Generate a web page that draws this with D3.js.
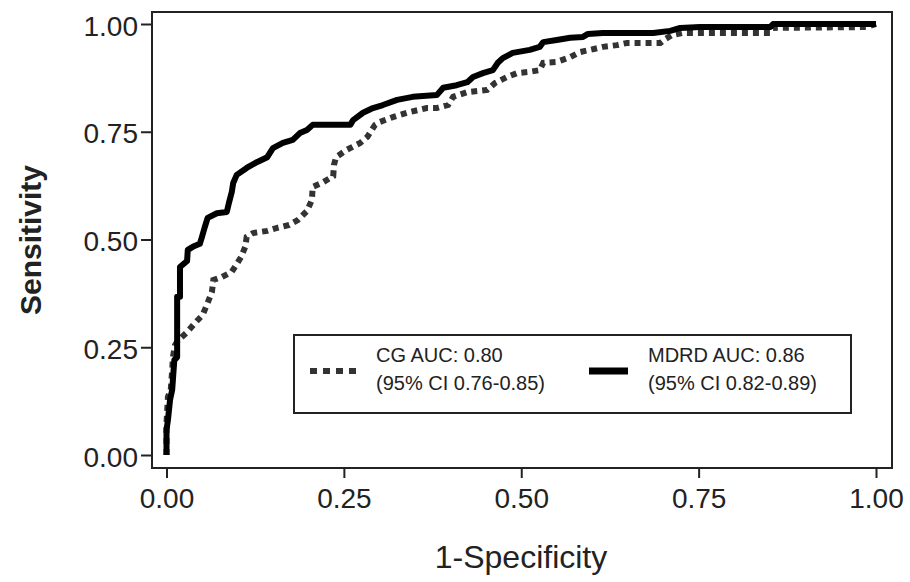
<!DOCTYPE html>
<html>
<head>
<meta charset="utf-8">
<script src="https://cdn.jsdelivr.net/npm/d3@7"></script>
<style>
    body { margin: 0; background: #fff; }
    text { font-family: "Liberation Sans", Arial, sans-serif; fill: #222; }
</style>
</head>
<body>
<div id="chart"></div>
<script>
// ROC points: [1-specificity, sensitivity]
var mdrdFpr = [0, 0, 0.002, 0.005, 0.008, 0.011, 0.015, 0.015, 0.019, 0.019, 0.029, 0.030, 0.037, 0.047, 0.050, 0.054,
    0.058, 0.071, 0.085, 0.088, 0.092, 0.094, 0.099, 0.113, 0.128, 0.142, 0.150, 0.164, 0.178, 0.188, 0.198, 0.206,
    0.259, 0.263, 0.277, 0.291, 0.305, 0.325, 0.347, 0.381, 0.390, 0.409, 0.424, 0.432, 0.446, 0.460, 0.467, 0.474,
    0.488, 0.512, 0.526, 0.531, 0.550, 0.569, 0.587, 0.594, 0.615, 0.686, 0.710, 0.724, 0.752, 0.851, 0.855, 1.0];
var mdrdTpr = [0, 0.058, 0.081, 0.128, 0.151, 0.220, 0.227, 0.367, 0.367, 0.436, 0.450, 0.476, 0.483, 0.490, 0.506, 0.529,
    0.550, 0.561, 0.564, 0.585, 0.610, 0.631, 0.650, 0.666, 0.680, 0.691, 0.712, 0.724, 0.731, 0.747, 0.754, 0.766,
    0.766, 0.777, 0.794, 0.805, 0.812, 0.824, 0.831, 0.835, 0.852, 0.858, 0.865, 0.877, 0.886, 0.893, 0.910, 0.921,
    0.933, 0.940, 0.947, 0.958, 0.963, 0.968, 0.970, 0.977, 0.979, 0.979, 0.984, 0.991, 0.993, 0.993, 1.0, 1.0];

var cgFpr = [0, 0, 0.001, 0.002, 0.006, 0.008, 0.009, 0.012, 0.016, 0.029, 0.040, 0.051, 0.058, 0.064, 0.066, 0.078,
    0.092, 0.099, 0.105, 0.111, 0.113, 0.122, 0.142, 0.156, 0.173, 0.185, 0.198, 0.205, 0.206, 0.221, 0.235, 0.236,
    0.239, 0.254, 0.273, 0.283, 0.294, 0.301, 0.319, 0.343, 0.367, 0.381, 0.397, 0.404, 0.424, 0.452, 0.463, 0.480,
    0.494, 0.512, 0.526, 0.531, 0.550, 0.569, 0.583, 0.597, 0.615, 0.635, 0.649, 0.696, 0.703, 0.712, 0.727, 0.851,
    0.855, 0.987, 1.0];
var cgTpr = [0, 0.074, 0.104, 0.135, 0.151, 0.197, 0.227, 0.255, 0.265, 0.285, 0.306, 0.325, 0.353, 0.378, 0.406, 0.413,
    0.425, 0.443, 0.459, 0.483, 0.506, 0.515, 0.520, 0.527, 0.534, 0.545, 0.566, 0.592, 0.622, 0.633, 0.647, 0.673,
    0.691, 0.708, 0.724, 0.738, 0.766, 0.773, 0.784, 0.796, 0.805, 0.805, 0.812, 0.831, 0.842, 0.847, 0.863, 0.877,
    0.886, 0.889, 0.893, 0.910, 0.912, 0.923, 0.935, 0.940, 0.947, 0.951, 0.956, 0.956, 0.965, 0.974, 0.979, 0.979,
    0.991, 0.993, 1.0];

var tickValues = [0, 0.25, 0.5, 0.75, 1];
var tickLabels = ["0.00", "0.25", "0.50", "0.75", "1.00"];

var legendNames = ["CG AUC: 0.80", "MDRD AUC: 0.86"];
var legendCI = ["(95% CI 0.76-0.85)", "(95% CI 0.82-0.89)"];

var width = 910;
var height = 582;

// frame of the plot
var frame = { left: 152, right: 892, top: 12, bottom: 468 };

var x = d3.scaleLinear().domain([0, 1]).range([166.5, 876]);
var y = d3.scaleLinear().domain([0, 1]).range([455, 24]);

var svg = d3.select('#chart')
    .append('svg')
    .attr('width', width)
    .attr('height', height);

svg.append('rect')
    .attr('x', frame.left)
    .attr('y', frame.top)
    .attr('width', frame.right - frame.left)
    .attr('height', frame.bottom - frame.top)
    .attr('fill', 'none')
    .attr('stroke', '#222')
    .attr('stroke-width', 2);

// axes
var xAxis = d3.axisBottom(x)
    .tickValues(tickValues)
    .tickFormat(function (d, i) { return tickLabels[i]; })
    .tickSize(10)
    .tickPadding(10);

var yAxis = d3.axisLeft(y)
    .tickValues(tickValues)
    .tickFormat(function (d, i) { return tickLabels[i]; })
    .tickSize(11)
    .tickPadding(3);

var gx = svg.append('g')
    .attr('transform', `translate(0, ${frame.bottom})`)
    .call(xAxis);

var gy = svg.append('g')
    .attr('transform', `translate(${frame.left}, 0)`)
    .call(yAxis);

[gx, gy].forEach(function (g) {
    g.select('.domain').remove();
    g.selectAll('line').attr('stroke', '#222').attr('stroke-width', 2);
    g.selectAll('text')
        .style('font-size', '28px')
        .style('font-family', '"Liberation Sans", Arial, sans-serif')
        .attr('fill', '#222');
});
gy.selectAll('text').attr('dy', '0.4em');

// axis titles
svg.append('text')
    .attr('x', 521)
    .attr('y', 568)
    .attr('text-anchor', 'middle')
    .style('font-size', '32px')
    .text('1-Specificity');

svg.append('text')
    .attr('transform', 'translate(41, 240) rotate(-90)')
    .attr('text-anchor', 'middle')
    .style('font-size', '30px')
    .style('font-weight', 'bold')
    .text('Sensitivity');

// curves
var line = d3.line()
    .x(function (d) { return x(d[0]); })
    .y(function (d) { return y(d[1]); });

var cg = d3.zip(cgFpr, cgTpr);
var mdrd = d3.zip(mdrdFpr, mdrdTpr);

svg.append('path')
    .datum(cg)
    .attr('d', line)
    .attr('fill', 'none')
    .attr('stroke', '#333')
    .attr('stroke-width', 6)
    .attr('stroke-dasharray', '6,5');

svg.append('path')
    .datum(mdrd)
    .attr('d', line)
    .attr('fill', 'none')
    .attr('stroke', '#000')
    .attr('stroke-width', 6)
    .attr('stroke-linejoin', 'round');

// legend
svg.append('rect')
    .attr('x', 294)
    .attr('y', 335)
    .attr('width', 557)
    .attr('height', 78)
    .attr('fill', '#fff')
    .attr('stroke', '#222')
    .attr('stroke-width', 2);

var legendX = [310, 589];
var legendW = [49, 39];
var legend = svg.selectAll('.legend')
    .data(legendNames)
    .enter()
    .append('g')
    .attr('class', 'legend')
    .attr('transform', function (d, i) { return `translate(${legendX[i]}, 0)`; });

legend.append('line')
    .attr('x1', 0)
    .attr('x2', function (d, i) { return legendW[i]; })
    .attr('y1', 371)
    .attr('y2', 371)
    .attr('stroke', function (d, i) { return i == 0 ? '#333' : '#000'; })
    .attr('stroke-width', function (d, i) { return i == 0 ? 6 : 7; })
    .attr('stroke-dasharray', function (d, i) { return i == 0 ? '7,6' : null; });

legend.append('text')
    .attr('x', function (d, i) { return i == 0 ? 66 : 59; })
    .attr('y', 362)
    .style('font-size', '20px')
    .text(function (d) { return d; });

legend.append('text')
    .attr('x', function (d, i) { return i == 0 ? 66 : 59; })
    .attr('y', 390)
    .style('font-size', '20px')
    .text(function (d, i) { return legendCI[i]; });
</script>
</body>
</html>
